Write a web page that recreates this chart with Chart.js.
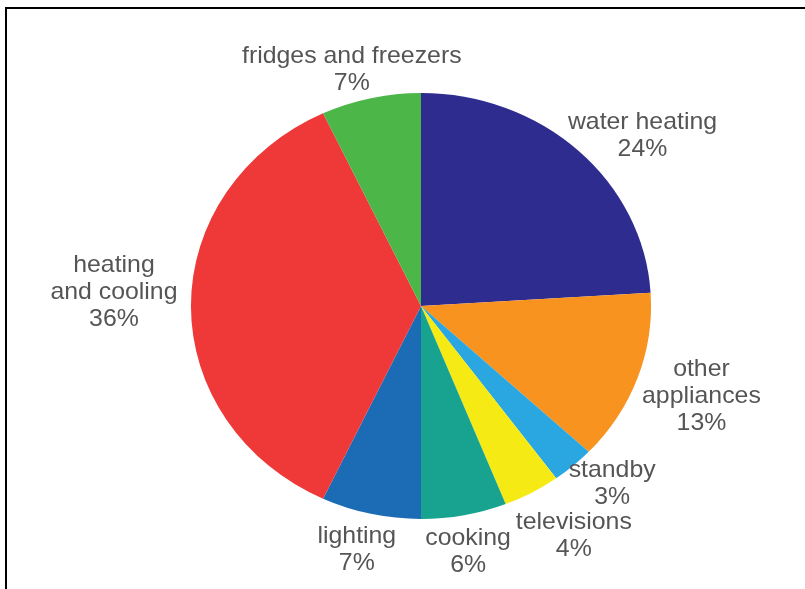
<!DOCTYPE html>
<html>
<head>
<meta charset="utf-8">
<script src="https://cdn.jsdelivr.net/npm/chart.js@4/dist/chart.umd.min.js"></script>
<style>
  html, body { margin: 0; padding: 0; background: #ffffff; }
  #wrap { position: relative; width: 805px; height: 589px; overflow: hidden; }
  #c { position: absolute; left: 0; top: 0; }
  #frame { position: absolute; left: 5px; top: 7px; width: 820px; height: 600px;
           border-top: 2px solid #000; border-left: 2px solid #000; pointer-events: none; }
</style>
</head>
<body>
<div id="wrap">
  <canvas id="c" width="805" height="589"></canvas>
  <div id="frame"></div>
</div>
<script>
// ---- data ----
const categories = ["water heating", "other appliances", "standby", "televisions",
                    "cooking", "lighting", "heating and cooling", "fridges and freezers"];
const labelLines = [["water heating"], ["other", "appliances"], ["standby"], ["televisions"],
                    ["cooking"], ["lighting"], ["heating", "and cooling"], ["fridges and freezers"]];
const shares = [24, 13, 3, 4, 6, 7, 36, 7];

// ---- style ----
const colors = ["#2E2C8E", "#F7931E", "#2AA6E0", "#F6EA14", "#17A38F", "#1C6CB5", "#EF3838", "#4DB648"];
// label offsets (px) from the slice's outer-edge midpoint
const labelDx = [64, 64, 39, 42, 4, -14, -77, -19];
const labelDy = [-15, 18, 18, 43, 37, 36, -14, -28];
const xStretch = 1.08;
const textStretch = 1.035;

const stretchPlugin = {
  id: 'stretch',
  beforeDatasetsDraw(chart) {
    const a = chart.getDatasetMeta(0).data[0];
    const ctx = chart.ctx;
    ctx.save();
    ctx.translate(a.x, a.y);
    ctx.scale(xStretch, 1);
    ctx.translate(-a.x, -a.y);
  },
  afterDatasetsDraw(chart) { chart.ctx.restore(); }
};

const labelPlugin = {
  id: 'pieLabels',
  afterDraw(chart) {
    const ctx = chart.ctx;
    const meta = chart.getDatasetMeta(0);
    ctx.save();
    ctx.fillStyle = '#555555';
    ctx.font = '24px "Liberation Sans", Arial, Helvetica, sans-serif';
    ctx.textAlign = 'center';
    ctx.textBaseline = 'middle';
    const lh = 27;
    meta.data.forEach((arc, i) => {
      const mid = (arc.startAngle + arc.endAngle) / 2;
      const px = arc.x + Math.cos(mid) * arc.outerRadius * xStretch;
      const py = arc.y + Math.sin(mid) * arc.outerRadius;
      const lines = labelLines[i].concat([shares[i] + '%']);
      const cx = px + labelDx[i];
      const cy = py + labelDy[i];
      const top = cy - (lines.length - 1) * lh / 2;
      lines.forEach((t, k) => {
        ctx.save();
        ctx.translate(cx, top + k * lh);
        ctx.scale(textStretch, 1);
        ctx.fillText(t, 0, 0);
        ctx.restore();
      });
    });
    ctx.restore();
  }
};

new Chart(document.getElementById('c'), {
  type: 'pie',
  data: {
    labels: categories,
    datasets: [{ data: shares, backgroundColor: colors, borderWidth: 0 }]
  },
  options: {
    responsive: false,
    animation: false,
    layout: { padding: { top: 93, bottom: 70, left: 208, right: 171 } },
    plugins: { legend: { display: false }, tooltip: { enabled: false } }
  },
  plugins: [stretchPlugin, labelPlugin]
});
</script>
</body>
</html>
